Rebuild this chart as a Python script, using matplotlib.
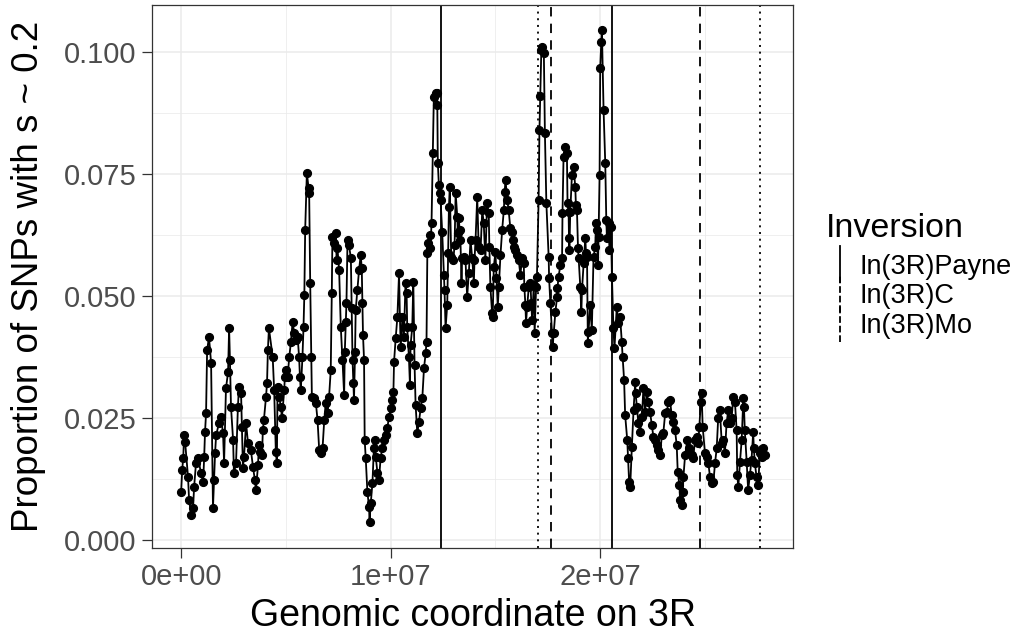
import matplotlib
matplotlib.use("Agg")
import matplotlib.pyplot as plt
from matplotlib.lines import Line2D
from matplotlib.legend_handler import HandlerBase
from matplotlib.ticker import FixedLocator

plt.rcParams["font.family"] = ["Liberation Sans", "DejaVu Sans"]

# window position on 3R (Mb) and proportion of SNPs with s ~ 0.2
pos_mb = [
    0.00, 0.05, 0.10, 0.14, 0.19, 0.33, 0.38, 0.48, 0.57, 0.62, 0.71, 0.81, 0.95, 1.05, 1.10, 1.14,
    1.19, 1.24, 1.33, 1.43, 1.52, 1.57, 1.62, 1.67, 1.81, 1.90, 2.00, 2.05, 2.14, 2.24, 2.29, 2.33,
    2.38, 2.48, 2.52, 2.62, 2.71, 2.76, 2.86, 2.90, 2.95, 3.00, 3.10, 3.19, 3.33, 3.43, 3.52, 3.57,
    3.67, 3.71, 3.76, 3.86, 3.90, 3.95, 4.05, 4.10, 4.14, 4.19,
    4.37, 4.44, 4.49, 4.52, 4.57, 4.60, 4.68, 4.76, 4.81, 4.92, 4.95, 5.00, 5.08, 5.16, 5.24, 5.32,
    5.40, 5.48, 5.56, 5.63, 5.67, 5.71, 5.79, 5.84, 5.88, 5.92, 6.00, 6.08, 6.11, 6.16, 6.21, 6.24,
    6.35, 6.43, 6.51, 6.59, 6.67, 6.75, 6.83, 6.90, 6.99, 7.06, 7.14, 7.19, 7.22, 7.30, 7.38, 7.42,
    7.46, 7.54, 7.62, 7.70, 7.78, 7.81, 7.86, 7.89, 7.94, 8.01, 8.10, 8.14, 8.18, 8.22, 8.25, 8.30,
    8.33, 8.41, 8.49, 8.57, 8.62, 8.65, 8.68, 8.73, 8.76, 8.81,
    8.89, 8.97, 8.99, 9.05, 9.13, 9.20, 9.24, 9.29, 9.37, 9.44, 9.52, 9.60, 9.68, 9.76, 9.84, 9.92,
    10.00, 10.08, 10.13, 10.16, 10.24, 10.32, 10.40, 10.44, 10.48, 10.56, 10.63, 10.71, 10.76, 10.79,
    10.87, 10.92, 10.95, 11.03, 11.08, 11.14, 11.19, 11.27, 11.35, 11.43, 11.51, 11.59, 11.67, 11.71,
    11.75, 11.80, 11.86, 11.90, 11.95, 12.01, 12.06, 12.14, 12.19, 12.22, 12.25, 12.30, 12.35, 12.38,
    12.46, 12.54, 12.57, 12.62, 12.70, 12.74, 12.78, 12.82, 12.89, 12.99, 13.05, 13.10, 13.18, 13.20,
    13.25, 13.29, 13.33, 13.38, 13.41, 13.49, 13.57, 13.65, 13.73, 13.81, 13.89, 13.97, 14.00, 14.05,
    14.13, 14.20, 14.29, 14.37, 14.44, 14.52, 14.60, 14.68, 14.71, 14.76, 14.84, 14.87, 14.92, 15.00,
    15.05, 15.11, 15.16, 15.24, 15.32, 15.40, 15.44, 15.48, 15.56, 15.63, 15.71, 15.79, 15.82, 15.87,
    15.95, 16.03, 16.11, 16.19, 16.27, 16.35, 16.38, 16.43, 16.46, 16.51, 16.59, 16.67, 16.71, 16.75,
    16.83, 16.87, 16.94, 16.98, 17.06, 17.10, 17.14, 17.19, 17.24, 17.31, 17.36, 17.43, 17.54, 17.56,
    17.62, 17.70, 17.73, 17.78, 17.86, 17.94, 17.96, 18.01, 18.10, 18.18, 18.20, 18.25, 18.33, 18.41,
    18.44, 18.49, 18.51, 18.53, 18.57, 18.65, 18.73, 18.81, 18.84, 18.89, 18.94, 18.97, 19.05, 19.10,
    19.13, 19.21, 19.29, 19.32, 19.37, 19.41, 19.44, 19.52, 19.60, 19.68, 19.76, 19.80, 19.84, 19.89,
    19.92, 19.97, 20.00, 20.05, 20.08, 20.16, 20.24, 20.29, 20.32, 20.40, 20.44, 20.51, 20.56, 20.63,
    20.68, 20.79, 20.87, 20.95, 21.03, 21.07, 21.14, 21.19, 21.29, 21.33, 21.38, 21.43,
    21.51, 21.59, 21.67, 21.69, 21.75, 21.82, 21.90, 21.99, 22.06, 22.14, 22.22, 22.30, 22.38, 22.46,
    22.54, 22.62, 22.70, 22.78, 22.86, 22.94, 23.01, 23.10, 23.18, 23.25, 23.33, 23.41, 23.49, 23.57,
    23.65, 23.70, 23.78, 23.81, 23.89, 23.94, 23.97, 24.05, 24.16, 24.25, 24.37, 24.44, 24.52, 24.60,
    24.68, 24.73, 24.80, 24.84, 24.89, 25.00, 25.08, 25.16, 25.24, 25.32, 25.40, 25.48, 25.56, 25.63,
    25.71, 25.80, 25.87, 25.95, 26.03, 26.11, 26.19, 26.27, 26.35, 26.43, 26.51, 26.54, 26.59, 26.67,
    26.75, 26.83, 26.86, 26.90, 26.99, 27.06, 27.14, 27.22, 27.30, 27.33, 27.38, 27.46, 27.54, 27.62,
    27.70, 27.78, 27.86,
]
prop = [
    0.0098, 0.0143, 0.0168, 0.0215, 0.0201, 0.0129, 0.0082, 0.0051, 0.0066, 0.0109, 0.0158, 0.0168, 0.0137, 0.0119, 0.0170, 0.0221,
    0.0260, 0.0389, 0.0416, 0.0363, 0.0066, 0.0123, 0.0178, 0.0215, 0.0240, 0.0252, 0.0219, 0.0158, 0.0311, 0.0344, 0.0434, 0.0369,
    0.0273, 0.0205, 0.0137, 0.0158, 0.0273, 0.0314, 0.0301, 0.0232, 0.0148, 0.0170, 0.0240, 0.0199, 0.0184, 0.0150, 0.0123, 0.0102,
    0.0154, 0.0195, 0.0180, 0.0174, 0.0225, 0.0246, 0.0293, 0.0322, 0.0389, 0.0434,
    0.0375, 0.0307, 0.0225, 0.0180, 0.0158, 0.0314, 0.0293, 0.0273, 0.0250, 0.0307, 0.0334, 0.0348, 0.0334, 0.0375, 0.0406, 0.0447,
    0.0424, 0.0410, 0.0416, 0.0375, 0.0334, 0.0307, 0.0375, 0.0436, 0.0502, 0.0635, 0.0752, 0.0721, 0.0711, 0.0527, 0.0375, 0.0293,
    0.0291, 0.0281, 0.0246, 0.0184, 0.0178, 0.0189, 0.0246, 0.0281, 0.0260, 0.0293, 0.0348, 0.0506, 0.0621, 0.0609, 0.0629, 0.0574,
    0.0598, 0.0553, 0.0436, 0.0369, 0.0297, 0.0385, 0.0447, 0.0486, 0.0615, 0.0604, 0.0578, 0.0475, 0.0369, 0.0322, 0.0287, 0.0385,
    0.0471, 0.0512, 0.0553, 0.0584, 0.0557, 0.0486, 0.0420, 0.0369, 0.0205, 0.0168,
    0.0098, 0.0068, 0.0037, 0.0076, 0.0117, 0.0189, 0.0205, 0.0170, 0.0137, 0.0123, 0.0168, 0.0189, 0.0205, 0.0215, 0.0230, 0.0252,
    0.0270, 0.0287, 0.0303, 0.0365, 0.0414, 0.0457, 0.0547, 0.0457, 0.0395, 0.0457, 0.0416, 0.0527, 0.0506, 0.0436,
    0.0375, 0.0318, 0.0400, 0.0436, 0.0529, 0.0359, 0.0277, 0.0219, 0.0242, 0.0270, 0.0291, 0.0352, 0.0383, 0.0406,
    0.0588, 0.0609, 0.0625, 0.0598, 0.0650, 0.0793, 0.0908, 0.0916, 0.0891, 0.0916, 0.0773, 0.0727, 0.0711, 0.0697,
    0.0631, 0.0543, 0.0512, 0.0434, 0.0482, 0.0588, 0.0682, 0.0723, 0.0580, 0.0574, 0.0604, 0.0711, 0.0662, 0.0629,
    0.0660, 0.0635, 0.0615, 0.0527, 0.0578, 0.0580, 0.0574, 0.0498, 0.0547, 0.0615, 0.0578, 0.0527, 0.0574, 0.0615,
    0.0703, 0.0600, 0.0594, 0.0676, 0.0650, 0.0574, 0.0691, 0.0670, 0.0600, 0.0518, 0.0465, 0.0457, 0.0559, 0.0590,
    0.0537, 0.0477, 0.0518, 0.0584, 0.0635, 0.0676, 0.0713, 0.0738, 0.0697, 0.0676, 0.0639, 0.0631, 0.0615, 0.0600,
    0.0594, 0.0584, 0.0574, 0.0543, 0.0578, 0.0568, 0.0518, 0.0482, 0.0445, 0.0477, 0.0518, 0.0527, 0.0486, 0.0451,
    0.0523, 0.0424, 0.0518, 0.0539, 0.0697, 0.0840, 0.0910, 0.1004, 0.1010, 0.0998, 0.0834, 0.0690, 0.0580, 0.0537,
    0.0486, 0.0424, 0.0395, 0.0424, 0.0467, 0.0498, 0.0516, 0.0539, 0.0564, 0.0578, 0.0670, 0.0785, 0.0805, 0.0793,
    0.0691, 0.0672, 0.0619, 0.0594, 0.0672, 0.0748, 0.0764, 0.0723, 0.0686, 0.0676, 0.0598, 0.0578, 0.0518, 0.0467,
    0.0512, 0.0568, 0.0619, 0.0588, 0.0580, 0.0404, 0.0426, 0.0482, 0.0430, 0.0580, 0.0600, 0.0650, 0.0635, 0.0564,
    0.0621, 0.0748, 0.0967, 0.1020, 0.1045, 0.0881, 0.0773, 0.0656, 0.0619, 0.0650, 0.0594, 0.0641, 0.0539, 0.0434,
    0.0393, 0.0477, 0.0445, 0.0457, 0.0406, 0.0375, 0.0328, 0.0256, 0.0205, 0.0168, 0.0119, 0.0109,
    0.0191, 0.0266, 0.0324, 0.0301, 0.0273, 0.0240, 0.0221, 0.0252, 0.0311, 0.0262, 0.0303, 0.0283, 0.0262, 0.0236,
    0.0211, 0.0205, 0.0195, 0.0184, 0.0174, 0.0215, 0.0219, 0.0260, 0.0262, 0.0283, 0.0287, 0.0256, 0.0242, 0.0225,
    0.0195, 0.0139, 0.0113, 0.0082, 0.0072, 0.0098, 0.0129, 0.0174, 0.0205, 0.0189, 0.0174, 0.0168, 0.0205, 0.0211,
    0.0199, 0.0232, 0.0283, 0.0301, 0.0232, 0.0178, 0.0170, 0.0158, 0.0129, 0.0117, 0.0119, 0.0158, 0.0189, 0.0250,
    0.0266, 0.0199, 0.0205, 0.0178, 0.0240, 0.0266, 0.0240, 0.0250, 0.0293, 0.0283, 0.0225, 0.0133, 0.0109, 0.0160,
    0.0205, 0.0291, 0.0273, 0.0225, 0.0160, 0.0102, 0.0133, 0.0164, 0.0221, 0.0189, 0.0158, 0.0129, 0.0113, 0.0178,
    0.0170, 0.0189, 0.0174,
]

# inversion breakpoints (Mb)
inversions = ["In(3R)Payne", "In(3R)C", "In(3R)Mo"]
breakpoints = [[12.38, 20.56], [17.01, 27.62], [17.65, 24.76]]
line_styles = ["-", (0, (1.1, 2.6)), (0, (5.2, 4.0))]


class VLineHandler(HandlerBase):
    def create_artists(self, legend, orig_handle, xdescent, ydescent,
                       width, height, fontsize, trans):
        x = width / 2 - xdescent
        line = Line2D([x, x], [-ydescent - 0.2 * fontsize, height - ydescent + 0.2 * fontsize],
                      color=orig_handle.get_color(), linestyle=orig_handle.get_linestyle(),
                      linewidth=orig_handle.get_linewidth(), transform=trans)
        return [line]


fig = plt.figure(figsize=(10.26, 6.34), dpi=100)
ax = fig.add_axes([152 / 1026, 1 - 548 / 634, (793 - 152) / 1026, (548 - 5) / 634])

x = [p * 1e6 for p in pos_mb]

handles = []
for name, bps, ls in zip(inversions, breakpoints, line_styles):
    for b in bps:
        ax.axvline(b * 1e6, color="black", linestyle=ls, linewidth=1.3, zorder=2)
    handles.append(Line2D([], [], color="black", linestyle=ls, linewidth=1.3, label=name))

ax.plot(x, prop, color="black", linewidth=1.3, zorder=3)
ax.plot(x, prop, "o", color="black", markersize=5.6, zorder=4)

ax.set_xlim(-1.39e6, 29.2e6)
ax.set_ylim(-0.0016, 0.1096)

ax.xaxis.set_major_locator(FixedLocator([0, 1e7, 2e7]))
ax.xaxis.set_minor_locator(FixedLocator([5e6, 1.5e7, 2.5e7]))
ax.set_xticklabels(["0e+00", "1e+07", "2e+07"])
ax.yaxis.set_major_locator(FixedLocator([0, 0.025, 0.05, 0.075, 0.1]))
ax.yaxis.set_minor_locator(FixedLocator([0.0125, 0.0375, 0.0625, 0.0875]))
ax.set_yticklabels(["0.000", "0.025", "0.050", "0.075", "0.100"])

ax.grid(True, which="major", color="#EBEBEB", linewidth=1.1, zorder=0)
ax.grid(True, which="minor", color="#EBEBEB", linewidth=0.55, zorder=0)
ax.set_axisbelow(True)
for s in ax.spines.values():
    s.set_color("#333333")
    s.set_linewidth(0.9)
ax.tick_params(which="major", length=7, width=0.9, color="#333333",
               labelsize=21, labelcolor="#4D4D4D", pad=4)
ax.tick_params(which="minor", length=0)

ax.set_xlabel("Genomic coordinate on 3R", fontsize=27, labelpad=5)
ax.set_ylabel("Proportion of SNPs with s ~ 0.2", fontsize=26.5, labelpad=13)

leg = fig.legend(handles=handles, title="Inversion", loc="upper left",
                 bbox_to_anchor=(826 / 1026, 1 - 213 / 634), frameon=False,
                 fontsize=19.5, title_fontsize=24.5, handlelength=1.0, handleheight=1.05,
                 handletextpad=0.25, labelspacing=0.08, borderpad=0, borderaxespad=0,
                 alignment="left", handler_map={Line2D: VLineHandler()})
# a little more room between the legend title and its entries
leg._legend_box.sep += 4

fig.savefig("out.png", dpi=100)
